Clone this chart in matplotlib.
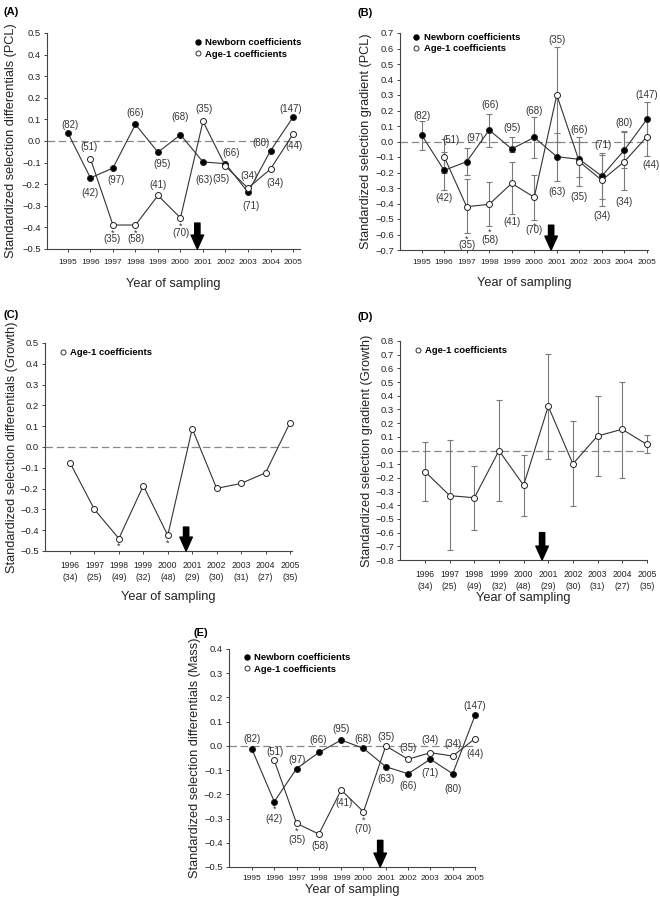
import numpy as np
import matplotlib
matplotlib.use('Agg')
import matplotlib.pyplot as plt
from matplotlib.lines import Line2D

plt.rcParams['font.family'] = ['Liberation Sans', 'DejaVu Sans']

# ---- data ----
years = [1995, 1996, 1997, 1998, 1999, 2000, 2001, 2002, 2003, 2004, 2005]
years_a1 = [1996, 1997, 1998, 1999, 2000, 2001, 2002, 2003, 2004, 2005]

n_newborn = [82, 42, 97, 66, 95, 68, 63, 66, 71, 80, 147]
n_age1 = [51, 35, 58, 41, 70, 35, 35, 34, 34, 44]
n_age1_growth = [34, 25, 49, 32, 48, 29, 30, 31, 27, 35]

# (A) selection differentials, PCL
pcl_diff_nb = [0.037, -0.171, -0.125, 0.077, -0.052, 0.029, -0.097, -0.105, -0.238, -0.045, 0.110]
pcl_diff_a1 = [-0.082, -0.389, -0.389, -0.252, -0.356, 0.091, -0.117, -0.218, -0.130, 0.032]

# (B) selection gradients, PCL (with CI)
pcl_grad_nb = [0.042, -0.186, -0.130, 0.074, -0.048, 0.027, -0.098, -0.115, -0.223, -0.055, 0.143]
pcl_grad_nb_lo = [-0.057, -0.310, -0.215, -0.037, -0.070, -0.105, -0.253, -0.230, -0.370, -0.170, 0.030]
pcl_grad_nb_hi = [0.134, -0.070, -0.040, 0.177, 0.031, 0.156, 0.053, 0.027, -0.072, 0.068, 0.257]
pcl_grad_a1 = [-0.098, -0.421, -0.405, -0.270, -0.360, 0.300, -0.130, -0.250, -0.130, 0.031]
pcl_grad_a1_lo = [-0.200, -0.593, -0.545, -0.468, -0.506, -0.005, -0.285, -0.415, -0.315, -0.094]
pcl_grad_a1_hi = [0.014, -0.242, -0.259, -0.130, -0.216, 0.610, 0.000, -0.085, 0.060, 0.150]

# (C) selection differentials, growth
growth_diff_a1 = [-0.075, -0.300, -0.440, -0.186, -0.425, 0.088, -0.199, -0.175, -0.124, 0.117]

# (D) selection gradients, growth (with CI)
growth_grad_a1 = [-0.155, -0.330, -0.345, -0.001, -0.254, 0.323, -0.098, 0.106, 0.155, 0.045]
growth_grad_a1_lo = [-0.371, -0.730, -0.583, -0.371, -0.478, -0.060, -0.407, -0.189, -0.198, -0.020]
growth_grad_a1_hi = [0.060, 0.077, -0.111, 0.372, -0.033, 0.705, 0.216, 0.400, 0.503, 0.111]

# (E) selection differentials, mass
mass_diff_nb = [-0.014, -0.230, -0.094, -0.027, 0.024, -0.010, -0.086, -0.115, -0.055, -0.115, 0.126]
mass_diff_a1 = [-0.060, -0.320, -0.364, -0.182, -0.272, 0.000, -0.055, -0.028, -0.042, 0.030]

# significant years (asterisks)
star_A_a1 = [1997, 1998, 2000]
star_C_a1 = [1998, 2000]
star_E_nb = [1996]
star_E_a1 = [1997, 2000]

arrow_year = 2000.75

# sample-size label offsets (pixels, x right / y up)
offA_nb = [(2, 8), (0, -15), (3, -12), (0, 11), (4, -12), (0, 18), (1, -18), (6, 11), (3, -14), (-10, 8), (-2, 8)]
offA_a1 = [(-1, 12), (-1, -14), (1, -14), (0, 10), (1, -15), (1, 12), (-4, -13), (1, 12), (4, -14), (1, -12)]
offB_nb = [(0, 19), (0, -28), (8, 24), (1, 25), (0, 21), (0, 26), (0, -35), (0, 29), (1, 31), (0, 27), (0, 24)]
offB_a1 = [(7, 17), (0, -38), (1, -36), (0, -39), (0, -33), (0, 55), (0, -35), (0, -36), (0, -40), (4, -28)]
offE_nb = [(0, 10), (0, -17), (0, 9), (-1, 12), (0, 11), (0, 9), (0, -12), (0, -12), (0, -14), (0, -15), (0, 9)]
offE_a1 = [(1, 8), (0, -17), (1, -12), (3, -13), (0, -17), (0, 9), (0, 11), (0, 13), (0, 12), (0, -15)]

LINE = '#333333'
GRAY = '#7a7a7a'
TXT = '#333333'


def yfmt(v):
    s = '%.1f' % v
    if s == '-0.0':
        s = '0.0'
    return s.replace('-', '\u2212')


def setup(ax, xlim, ylo, yhi, xt, xtl, xsize=6, pad=4):
    for s in ['top', 'right']:
        ax.spines[s].set_visible(False)
    for s in ['left', 'bottom']:
        ax.spines[s].set_color('#444444')
        ax.spines[s].set_linewidth(0.8)
    ax.set_xlim(xlim)
    ax.set_ylim(ylo, yhi)
    yt = np.round(np.arange(round(ylo * 10), round(yhi * 10) + 1) / 10.0, 1)
    ax.set_yticks(yt)
    ax.set_yticklabels([yfmt(v) for v in yt], fontsize=6.8, color='#222222')
    ax.set_xticks(xt)
    ax.set_xticklabels(xtl, fontsize=xsize, color='#222222', linespacing=1.3)
    ax.tick_params(axis='both', length=2.5, width=0.7, color='#444444')
    ax.tick_params(axis='x', pad=pad)
    ax.tick_params(axis='y', pad=2)
    ax.axhline(0, color='#888888', lw=0.9, dashes=(6, 3), zorder=1)


def nlabels(ax, xs, ys, ns, offs):
    for x, y, n, (dx, dy) in zip(xs, ys, ns, offs):
        ax.annotate('(%d)' % n, (x, y), xytext=(dx, dy), textcoords='offset pixels',
                    ha='center', va='center', fontsize=7, color=TXT, annotation_clip=False)


def stars(ax, xs, ys, which, dy=-8):
    for x, y in zip(xs, ys):
        if x in which:
            ax.annotate('*', (x, y), xytext=(0, dy), textcoords='offset pixels',
                        ha='center', va='center', fontsize=6.5, color=TXT)


def arrow(ax, ytop, ybot):
    ax.annotate('', xy=(arrow_year, ybot), xytext=(arrow_year, ytop),
                arrowprops=dict(arrowstyle='simple,head_length=1.0,head_width=0.9,tail_width=0.38',
                                fc='black', ec='black', shrinkA=0, shrinkB=0, mutation_scale=10),
                annotation_clip=False, zorder=5)


def legend(ax, x, y, both=True):
    h = []
    if both:
        h.append(Line2D([], [], ls='none', marker='o', ms=3.6, mfc='black', mec='black',
                        label='Newborn coefficients'))
    h.append(Line2D([], [], ls='none', marker='o', ms=3.6, mfc='white', mec='#333333', mew=0.7,
                    label='Age-1 coefficients'))
    ax.legend(handles=h, loc='upper left', bbox_to_anchor=(x, y), frameon=False,
              prop={'weight': 'bold', 'size': 6.8}, handlelength=0.6, handletextpad=0.5,
              labelspacing=0.25, borderpad=0, borderaxespad=0)


def series(ax, xs, ys, filled, yerr=None):
    mfc = 'black' if filled else 'white'
    if yerr is not None:
        eb = ax.errorbar(xs, ys, yerr=yerr, fmt='none', ecolor=GRAY, elinewidth=0.8,
                         capsize=2.5, capthick=0.8, zorder=2)
        for a in eb.lines[1] + eb.lines[2]:
            a.set_clip_on(False)
    ax.plot(xs, ys, color=LINE, lw=0.8, marker='o', ms=4.3, mfc=mfc, mec='#222222',
            mew=0.7, zorder=3, clip_on=False)


def ylab(ax, text, x):
    ax.set_ylabel(text, fontsize=9.2, color='#222222')
    ax.yaxis.set_label_coords(x, 0.5)


def xlab(ax, pad):
    ax.set_xlabel('Year of sampling', fontsize=9.2, color='#222222', labelpad=pad)


fig = plt.figure(figsize=(6.6, 8.99), dpi=100)
W, H = 660.0, 899.0


def mkax(l, r, t, b):
    return fig.add_axes([l / W, 1 - b / H, (r - l) / W, (b - t) / H])


# ---- (A) ----
ax = mkax(47, 300, 33, 249)
setup(ax, (1994.07, 2005.31), -0.5, 0.5, years, [str(y) for y in years], pad=5)
series(ax, years, pcl_diff_nb, True)
series(ax, years_a1, pcl_diff_a1, False)
nlabels(ax, years, pcl_diff_nb, n_newborn, offA_nb)
nlabels(ax, years_a1, pcl_diff_a1, n_age1, offA_a1)
stars(ax, years_a1, pcl_diff_a1, star_A_a1)
arrow(ax, -0.38, -0.5)
legend(ax, 0.585, 0.975)
xlab(ax, 8)
ylab(ax, 'Standardized selection differentials (PCL)', -0.117)

# ---- (B) ----
ax = mkax(400, 648, 33, 250)
setup(ax, (1994.04, 2005.05), -0.7, 0.7, years, [str(y) for y in years], pad=4)
nb_err = [np.subtract(pcl_grad_nb, pcl_grad_nb_lo), np.subtract(pcl_grad_nb_hi, pcl_grad_nb)]
a1_err = [np.subtract(pcl_grad_a1, pcl_grad_a1_lo), np.subtract(pcl_grad_a1_hi, pcl_grad_a1)]
series(ax, years, pcl_grad_nb, True, nb_err)
series(ax, years_a1, pcl_grad_a1, False, a1_err)
nlabels(ax, years, pcl_grad_nb, n_newborn, offB_nb)
nlabels(ax, years_a1, pcl_grad_a1, n_age1, offB_a1)
stars(ax, years_a1, pcl_grad_a1_lo, star_A_a1, dy=-6)
arrow(ax, -0.54, -0.7)
legend(ax, 0.055, 1.0)
xlab(ax, 8)
ylab(ax, 'Standardized selection gradient (PCL)', -0.111)

# ---- (C) ----
ax = mkax(45, 292, 343, 551)
xtl_g = ['%d\n(%d)' % (y, n) for y, n in zip(years_a1, n_age1_growth)]
setup(ax, (1994.98, 2005.08), -0.5, 0.5, years_a1, xtl_g, xsize=6.2, pad=5)
series(ax, years_a1, growth_diff_a1, False)
stars(ax, years_a1, growth_diff_a1, star_C_a1)
arrow(ax, -0.385, -0.5)
legend(ax, 0.06, 0.975, both=False)
xlab(ax, 7)
ylab(ax, 'Standardized selection differentials (Growth)', -0.111)

# ---- (D) ----
ax = mkax(400, 647, 341, 560)
setup(ax, (1994.98, 2005.01), -0.8, 0.8, years_a1, xtl_g, xsize=6.2, pad=5)
g_err = [np.subtract(growth_grad_a1, growth_grad_a1_lo), np.subtract(growth_grad_a1_hi, growth_grad_a1)]
series(ax, years_a1, growth_grad_a1, False, g_err)
arrow(ax, -0.60, -0.8)
legend(ax, 0.06, 0.975, both=False)
xlab(ax, 1)
ylab(ax, 'Standardized selection gradient (Growth)', -0.111)

# ---- (E) ----
ax = mkax(229, 475, 649, 867)
setup(ax, (1993.97, 2005.0), -0.5, 0.4, years, [str(y) for y in years], pad=3)
series(ax, years, mass_diff_nb, True)
series(ax, years_a1, mass_diff_a1, False)
nlabels(ax, years, mass_diff_nb, n_newborn, offE_nb)
nlabels(ax, years_a1, mass_diff_a1, n_age1, offE_a1)
stars(ax, years, mass_diff_nb, star_E_nb)
stars(ax, years_a1, mass_diff_a1, star_E_a1)
arrow(ax, -0.39, -0.5)
legend(ax, 0.06, 0.98)
xlab(ax, 2)
ylab(ax, 'Standardized selection differentials (Mass)', -0.112)

# panel letters
for lab, x, y in [('(A)', 4, 12), ('(B)', 357, 13), ('(C)', 3, 315), ('(D)', 357, 317), ('(E)', 194, 633)]:
    fig.text(x / W, 1 - y / H, lab, fontsize=8, fontweight='bold', va='center', ha='left')

fig.savefig('out.png', dpi=100)
